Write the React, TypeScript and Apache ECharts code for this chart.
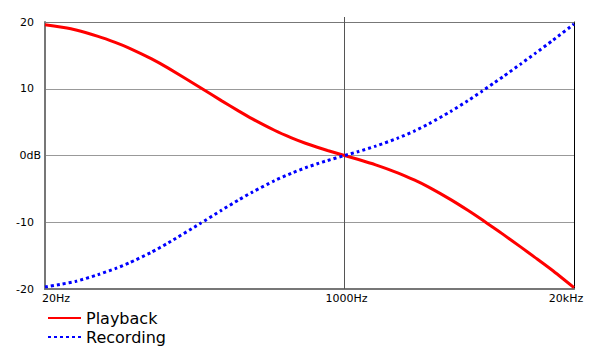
import React, { useEffect, useRef } from "react";
import * as echarts from "echarts";

const frequencies = [20, 25, 30, 40, 50, 60, 80, 100, 150, 200, 250, 300, 400, 500, 600, 700, 800, 1000, 1200, 1500, 2000, 2500, 3000, 4000, 5000, 6000, 7000, 8000, 10000, 12000, 15000, 20000];
const playback = [19.6, 19.2, 18.8, 17.85, 16.95, 16.1, 14.51, 13.09, 10.27, 8.22, 6.68, 5.48, 3.78, 2.65, 1.84, 1.23, 0.75, 0, -0.6, -1.4, -2.59, -3.7, -4.74, -6.61, -8.21, -9.6, -10.82, -11.89, -13.73, -15.26, -17.16, -19.8];
const recording = [-19.7, -19.25, -18.85, -17.85, -16.95, -16.1, -14.51, -13.09, -10.27, -8.22, -6.68, -5.48, -3.78, -2.65, -1.84, -1.23, -0.75, 0, 0.6, 1.4, 2.59, 3.7, 4.74, 6.61, 8.21, 9.6, 10.82, 11.89, 13.73, 15.26, 17.16, 19.7];
const xTickValues = [20, 1000, 20000];
const xTickLabels: Record<number, string> = { 20: "20Hz", 1000: "1000Hz", 20000: "20kHz" };
const seriesNames = ["Playback", "Recording"];

const FONT = "DejaVu Sans";

export default function App() {
  const ref = useRef<HTMLDivElement>(null);
  useEffect(() => {
    if (!ref.current) return;
    const chart = echarts.init(ref.current, undefined, { renderer: "svg" });
    chart.setOption({
      animation: false,
      textStyle: { fontFamily: FONT },
      grid: { left: 45, right: 26, top: 22, bottom: 72, containLabel: false },
      legend: {
        data: seriesNames,
        orient: "vertical",
        left: 47,
        top: 310,
        padding: 0,
        itemWidth: 33,
        itemHeight: 18,
        itemGap: 3,
        itemStyle: { opacity: 0 },
        textStyle: { fontFamily: FONT, fontSize: 16, color: "#000" },
      },
      xAxis: [
        {
          type: "log",
          logBase: 10,
          min: 20,
          max: 20000,
          position: "bottom",
          axisLine: { show: true, onZero: false, lineStyle: { color: "#777", width: 2 } },
          axisTick: { show: false, customValues: xTickValues },
          splitLine: { show: false },
          axisLabel: {
            customValues: xTickValues,
            margin: 4,
            color: "#000",
            fontFamily: FONT,
            fontSize: 11,
            formatter: (v: number) => {
              const r = Math.round(v);
              if (r === 20) return "{l|" + xTickLabels[20] + "}";
              if (r === 20000) return "{r|" + xTickLabels[20000] + "}";
              return "{c|" + xTickLabels[1000] + "}";
            },
            rich: {
              l: { fontFamily: FONT, fontSize: 11, color: "#000", padding: [0, 0, 0, 22] },
              c: { fontFamily: FONT, fontSize: 11, color: "#000", padding: [0, 0, 0, 4] },
              r: { fontFamily: FONT, fontSize: 11, color: "#000", padding: [0, 16, 0, 0] },
            },
          },
        },
        {
          type: "log",
          logBase: 10,
          min: 20,
          max: 20000,
          position: "top",
          axisLine: { show: true, onZero: false, lineStyle: { color: "#777", width: 1 } },
          axisTick: { show: true, customValues: [1000], length: 5, inside: false, lineStyle: { color: "#555", width: 1 } },
          axisLabel: { show: false },
          splitLine: { show: false },
        },
      ],
      yAxis: [
        {
          type: "value",
          min: -20,
          max: 20,
          interval: 10,
          axisLine: { show: true, onZero: false, lineStyle: { color: "#777", width: 2 } },
          axisTick: { show: false },
          splitLine: { show: true, lineStyle: { color: "#999", width: 1 } },
          axisLabel: {
            margin: 4,
            color: "#000",
            fontFamily: FONT,
            fontSize: 11,
            formatter: (v: number) => (v === 0 ? "{z|0dB}" : "{n|" + v + "}"),
            rich: {
              z: { fontFamily: FONT, fontSize: 11, color: "#000" },
              n: { fontFamily: FONT, fontSize: 11, color: "#000", padding: [0, 7, 0, 0] },
            },
          },
        },
        {
          type: "value",
          min: -20,
          max: 20,
          position: "right",
          axisLine: { show: true, onZero: false, lineStyle: { color: "#000", width: 1 } },
          axisTick: { show: false },
          axisLabel: { show: false },
          splitLine: { show: false },
        },
      ],
      series: [
        {
          name: seriesNames[0],
          type: "line",
          data: frequencies.map((f, i) => [f, playback[i]]),
          smooth: 0.2,
          symbol: "none",
          lineStyle: { color: "#ff0000", width: 3 },
          itemStyle: { color: "#ff0000" },
          z: 3,
          markLine: {
            silent: true,
            symbol: "none",
            label: { show: false },
            lineStyle: { color: "#555", width: 1, type: "solid" },
            data: [{ xAxis: 1000 }],
            z: 1,
          },
        },
        {
          name: seriesNames[1],
          type: "line",
          data: frequencies.map((f, i) => [f, recording[i]]),
          smooth: 0.2,
          symbol: "none",
          lineStyle: { color: "#0000ff", width: 3, type: [3, 3] },
          itemStyle: { color: "#0000ff" },
          z: 4,
        },
      ],
    });
    return () => chart.dispose();
  }, []);
  return <div ref={ref} style={{ width: 600, height: 361, margin: -8 }} />;
}
